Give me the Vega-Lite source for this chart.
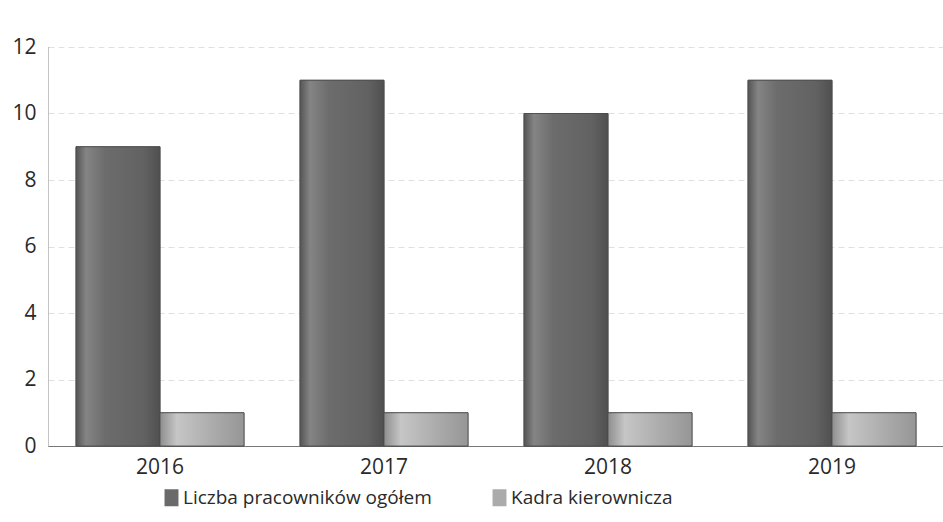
{
  "$schema": "https://vega.github.io/schema/vega-lite/v6.json",
  "autosize": {"type": "none"},
  "width": 896,
  "height": 399,
  "padding": {"left": 48, "top": 47, "right": 0, "bottom": 76},
  "background": "white",
  "data": {"values": [
    {"rok": "2016", "seria": "Liczba pracowników ogółem", "wartosc": 9},
    {"rok": "2016", "seria": "Kadra kierownicza", "wartosc": 1},
    {"rok": "2017", "seria": "Liczba pracowników ogółem", "wartosc": 11},
    {"rok": "2017", "seria": "Kadra kierownicza", "wartosc": 1},
    {"rok": "2018", "seria": "Liczba pracowników ogółem", "wartosc": 10},
    {"rok": "2018", "seria": "Kadra kierownicza", "wartosc": 1},
    {"rok": "2019", "seria": "Liczba pracowników ogółem", "wartosc": 11},
    {"rok": "2019", "seria": "Kadra kierownicza", "wartosc": 1}
  ]},
  "encoding": {
    "x": {
      "field": "rok", "type": "nominal",
      "scale": {"paddingInner": 0.25, "paddingOuter": 0.125},
      "axis": {"title": null, "labelAngle": 0, "ticks": false, "labelPadding": 10, "labelFontSize": 21, "labelColor": "#2a2a2a", "labelFont": "Open Sans", "domainColor": "#777", "domainWidth": 1}
    },
    "xOffset": {"field": "seria", "type": "nominal", "sort": ["Liczba pracowników ogółem", "Kadra kierownicza"]},
    "y": {
      "field": "wartosc", "type": "quantitative",
      "scale": {"domain": [0, 12], "nice": false},
      "axis": {"title": null, "values": [0, 2, 4, 6, 8, 10, 12], "ticks": false, "labelPadding": 12, "labelFontSize": 21, "labelColor": "#2a2a2a", "labelFont": "Open Sans", "domain": true, "domainColor": "#888", "domainDash": [1, 1], "gridColor": "#e0e0e0", "gridDash": [6, 4], "gridWidth": 1}
    }
  },
  "layer": [
    {
      "mark": {"type": "bar", "stroke": "#4a4a4a", "strokeWidth": 0.8},
      "encoding": {
        "color": {
          "field": "seria", "type": "nominal",
          "sort": ["Liczba pracowników ogółem", "Kadra kierownicza"],
          "scale": {"range": ["#6a6a6a", "#ababab"]},
          "legend": {"title": null, "orient": "none", "direction": "horizontal", "legendX": 114, "legendY": 441, "symbolType": "M-0.82,-1H0.82V1H-0.82Z", "symbolSize": 289, "symbolStrokeWidth": 0, "symbolOpacity": 1, "labelFontSize": 19, "labelColor": "#2a2a2a", "labelFont": "Open Sans", "labelLimit": 400, "columnPadding": 58, "labelOffset": 2}
        }
      }
    },
    {
      "transform": [{"filter": "datum.seria === 'Liczba pracowników ogółem'"}],
      "mark": {"type": "bar", "stroke": "#4a4a4a", "strokeWidth": 0.8,
        "color": {"gradient": "linear", "x1": 0, "y1": 0, "x2": 1, "y2": 0, "stops": [
          {"offset": 0, "color": "#555555"}, {"offset": 0.12, "color": "#848484"}, {"offset": 0.35, "color": "#6c6c6c"}, {"offset": 0.8, "color": "#626262"}, {"offset": 1, "color": "#505050"}]}}
    },
    {
      "transform": [{"filter": "datum.seria === 'Kadra kierownicza'"}],
      "mark": {"type": "bar", "stroke": "#4a4a4a", "strokeWidth": 0.8,
        "color": {"gradient": "linear", "x1": 0, "y1": 0, "x2": 1, "y2": 0, "stops": [
          {"offset": 0, "color": "#8e8e8e"}, {"offset": 0.2, "color": "#c6c6c6"}, {"offset": 0.6, "color": "#adadad"}, {"offset": 1, "color": "#969696"}]}}
    }
  ],
  "config": {"view": {"stroke": null}}
}
